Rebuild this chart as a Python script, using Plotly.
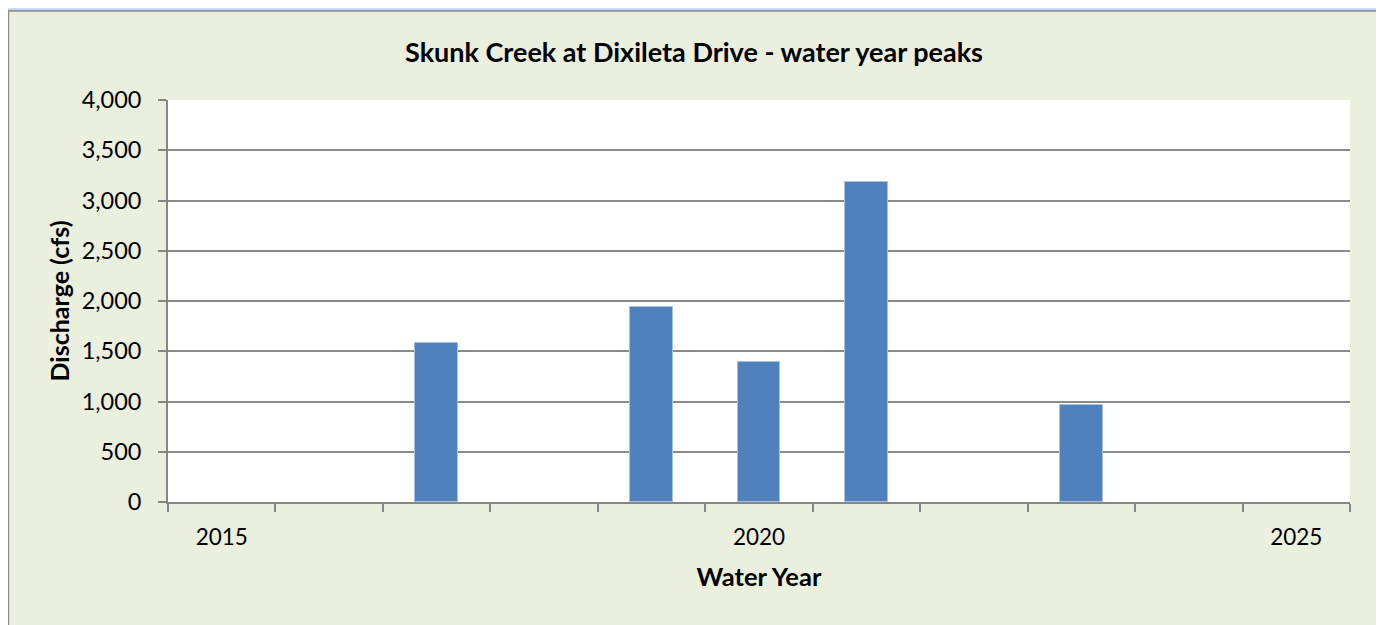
import plotly.graph_objects as go

years = [2015, 2016, 2017, 2018, 2019, 2020, 2021, 2022, 2023, 2024, 2025]
peaks = [None, None, 1580, None, 1945, 1395, 3185, None, 965, None, None]
ytick_vals = [0, 500, 1000, 1500, 2000, 2500, 3000, 3500, 4000]
xtick_vals = [2015, 2020, 2025]

# page has an 8px body margin; figure is sized to fit the window
OFF = 8
W, H = 1384 - OFF, 625 - OFF
L = 168 - OFF
T = 100 - OFF
R = W - (1350 - OFF)
B = H - (502 - OFF)
pw, ph = W - L - R, H - T - B

def px(x):  # page x -> paper
    return (x - OFF - L) / pw

def py(y):  # page y -> paper
    return (H - B - (y - OFF)) / ph

FONT = "Lato"
fig = go.Figure()
fig.add_trace(go.Bar(
    x=years, y=peaks, width=0.4,
    marker=dict(color="#4F81BD", line=dict(color="#A9C1DF", width=1)),
    hoverinfo="x+y",
))

shapes = []
for w, op in [(9, 0.12), (6, 0.2), (3, 0.35)]:
    shapes.append(dict(type="rect", xref="paper", yref="paper", layer="below",
                       x0=px(8.5), x1=px(1377), y0=py(650), y1=py(11),
                       line=dict(color=f"rgba(100,150,230,{op})", width=w),
                       fillcolor="rgba(0,0,0,0)"))
shapes.append(dict(type="rect", xref="paper", yref="paper", layer="below",
                   x0=px(8.5), x1=px(1377), y0=py(650), y1=py(11),
                   line=dict(color="#8C8C8C", width=1.5), fillcolor="#EBEFDE"))
shapes.append(dict(type="rect", xref="paper", yref="paper", layer="below",
                   x0=0, x1=1, y0=0, y1=1, line=dict(width=0), fillcolor="white"))

fig.update_layout(
    width=W, height=H,
    margin=dict(l=L, r=R, t=T, b=B),
    paper_bgcolor="white", plot_bgcolor="white",
    showlegend=False, bargap=0,
    shapes=shapes,
    font=dict(family=FONT, color="black"),
    title=dict(text="<b>Skunk Creek at Dixileta Drive - water year peaks</b>",
               x=px(694), xref="paper", xanchor="center",
               y=1 - (53 - OFF) / H, yanchor="middle",
               font=dict(family=FONT, size=27, color="black")),
    xaxis=dict(range=[2014.5, 2025.5], tickvals=xtick_vals,
               ticktext=[str(v) for v in xtick_vals],
               ticks="", showgrid=False, zeroline=False,
               showline=True, linecolor="#868686", linewidth=1.6,
               tickfont=dict(family=FONT, size=22.5),
               ticklabelstandoff=14,
               minor=dict(ticks="outside", tick0=2014.5, dtick=1, ticklen=8,
                          tickcolor="#868686", tickwidth=1.5, showgrid=False),
               title=dict(text="<b>Water Year</b>", standoff=19,
                          font=dict(family=FONT, size=25.5))),
    yaxis=dict(range=[0, 4000], tickvals=ytick_vals, tickformat=",",
               ticks="outside", ticklen=8, tickcolor="#868686", tickwidth=1.5,
               showgrid=True, gridcolor="#8A8A8A", gridwidth=1.7,
               zeroline=False, showline=True, linecolor="#868686", linewidth=1.6,
               tickfont=dict(family=FONT, size=23.5),
               ticklabelstandoff=12,
               title=dict(text="<b>Discharge (cfs)</b>", standoff=5,
                          font=dict(family=FONT, size=25))),
)

fig.write_html("out.html")
